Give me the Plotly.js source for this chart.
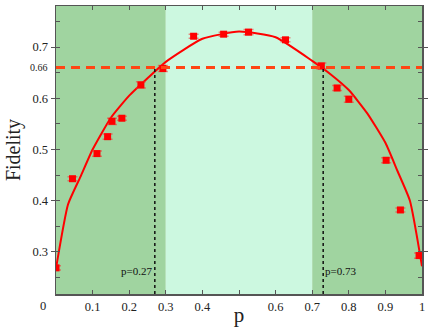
<!DOCTYPE html>
<html>
<head>
<meta charset="utf-8">
<script src="https://cdn.plot.ly/plotly-3.0.1.min.js"></script>
<style>
  html, body { margin: 0; padding: 0; background: #fff; }
  #chart { width: 436px; height: 327px; }
</style>
</head>
<body>
<div id="chart"></div>
<script>
// measured points (p, fidelity, error)
var pData = [0.0, 0.045, 0.112, 0.141, 0.153, 0.180, 0.232, 0.292, 0.376, 0.458, 0.526, 0.627, 0.725, 0.768, 0.800, 0.902, 0.941, 0.992];
var fData = [0.269, 0.443, 0.492, 0.525, 0.555, 0.561, 0.626, 0.658, 0.721, 0.725, 0.729, 0.714, 0.663, 0.620, 0.598, 0.479, 0.382, 0.293];
var fErr  = [0.004, 0.004, 0.005, 0.005, 0.006, 0.004, 0.006, 0.006, 0.004, 0.004, 0.005, 0.004, 0.006, 0.005, 0.006, 0.005, 0.004, 0.005];

// fitted curve
var pFit = [0, 0.033, 0.067, 0.1, 0.15, 0.2, 0.25, 0.3, 0.4, 0.5, 0.6, 0.7, 0.75, 0.8, 0.85, 0.9, 0.933, 0.967, 1];
var fFit = [0.268, 0.393, 0.447, 0.500, 0.562, 0.605, 0.639, 0.671, 0.716, 0.730, 0.719, 0.673, 0.647, 0.616, 0.571, 0.513, 0.458, 0.400, 0.272];

var threshold = 0.66;
var crossings = [0.27, 0.73];
var regionEdges = [0, 0.3, 0.7, 1];
var xTicks = [0.1, 0.2, 0.3, 0.4, 0.5, 0.6, 0.7, 0.8, 0.9, 1];
var xTickText = ['0.1', '0.2', '0.3', '0.4', '', '0.6', '0.7', '0.8', '0.9', '1'];
var yTicks = [0.3, 0.4, 0.5, 0.6, 0.7];

var serif = 'Liberation Serif, Times New Roman, serif';
var darkGreen = 'rgb(160,212,160)';
var lightGreen = 'rgb(204,248,224)';

var fit = {
  x: pFit, y: fFit, type: 'scatter', mode: 'lines',
  line: {color: 'rgb(255,0,0)', width: 2, shape: 'spline', smoothing: 0.5},
  hoverinfo: 'skip'
};

var points = {
  x: pData, y: fData, type: 'scatter', mode: 'markers',
  marker: {symbol: 'square', size: 7, color: 'rgb(255,0,0)'},
  error_y: {type: 'data', array: fErr, color: 'rgba(240,60,60,0.6)', thickness: 1.5, width: 5}
};

var shapes = [
  {type: 'rect', xref: 'x', yref: 'paper', x0: regionEdges[0], x1: regionEdges[1], y0: 0, y1: 1,
   fillcolor: darkGreen, line: {width: 0}, layer: 'below'},
  {type: 'rect', xref: 'x', yref: 'paper', x0: regionEdges[1], x1: regionEdges[2], y0: 0, y1: 1,
   fillcolor: lightGreen, line: {width: 0}, layer: 'below'},
  {type: 'rect', xref: 'x', yref: 'paper', x0: regionEdges[2], x1: regionEdges[3], y0: 0, y1: 1,
   fillcolor: darkGreen, line: {width: 0}, layer: 'below'},
  {type: 'line', xref: 'paper', yref: 'y', x0: 0, x1: 1, y0: threshold, y1: threshold,
   line: {color: 'rgb(255,69,20)', width: 3, dash: '9px,6px'}}
];
crossings.forEach(function(c) {
  shapes.push({type: 'line', xref: 'x', yref: 'y', x0: c, x1: c, y0: 0.218, y1: threshold,
    line: {color: '#111', width: 1.5, dash: 'dot'}});
});

var layout = {
  width: 436, height: 327,
  margin: {l: 56, r: 14, t: 6, b: 33},
  paper_bgcolor: '#fff',
  plot_bgcolor: '#fff',
  showlegend: false,
  font: {family: serif, size: 12, color: '#222'},
  xaxis: {
    range: [0, 1],
    tickvals: xTicks, ticktext: xTickText,
    ticks: 'inside', ticklen: 4, tickcolor: '#555',
    showline: true, linecolor: '#555', linewidth: 1.5, mirror: 'ticks',
    showgrid: false, zeroline: false,
    tickfont: {family: serif, size: 12.5, color: '#222'},
    title: {text: 'p', font: {family: serif, size: 21, color: '#222'}, standoff: 0}
  },
  yaxis: {
    range: [0.218, 0.78],
    tickvals: yTicks,
    ticks: 'outside', ticklen: 4, tickcolor: '#555',
    minor: {dtick: 0.05, tick0: 0.25, ticks: 'inside', ticklen: 4, tickcolor: '#555'},
    showline: true, linecolor: '#555', linewidth: 1.5, mirror: 'ticks',
    showgrid: false, zeroline: false,
    tickfont: {family: serif, size: 12.5, color: '#222'},
    title: {text: 'Fidelity', font: {family: serif, size: 20, color: '#222'}, standoff: 6}
  },
  shapes: shapes,
  annotations: [
    {x: crossings[0], y: 0.262, xref: 'x', yref: 'y', text: 'p=' + crossings[0], showarrow: false,
     xanchor: 'right', xshift: -1, font: {family: serif, size: 11, color: '#111'}},
    {x: crossings[1], y: 0.262, xref: 'x', yref: 'y', text: 'p=' + crossings[1], showarrow: false,
     xanchor: 'left', xshift: 0, font: {family: serif, size: 11, color: '#111'}},
    {x: 0, y: threshold, xref: 'paper', yref: 'y', text: String(threshold), showarrow: false,
     xanchor: 'right', xshift: -6, font: {family: serif, size: 10, color: '#222'}},
    {x: 0, y: 0, xref: 'paper', yref: 'paper', text: '0', showarrow: false,
     xanchor: 'right', yanchor: 'top', xshift: -8, yshift: -3, font: {family: serif, size: 12.5, color: '#222'}}
  ]
};

Plotly.newPlot('chart', [fit, points], layout, {displayModeBar: false, staticPlot: true});
</script>
</body>
</html>
